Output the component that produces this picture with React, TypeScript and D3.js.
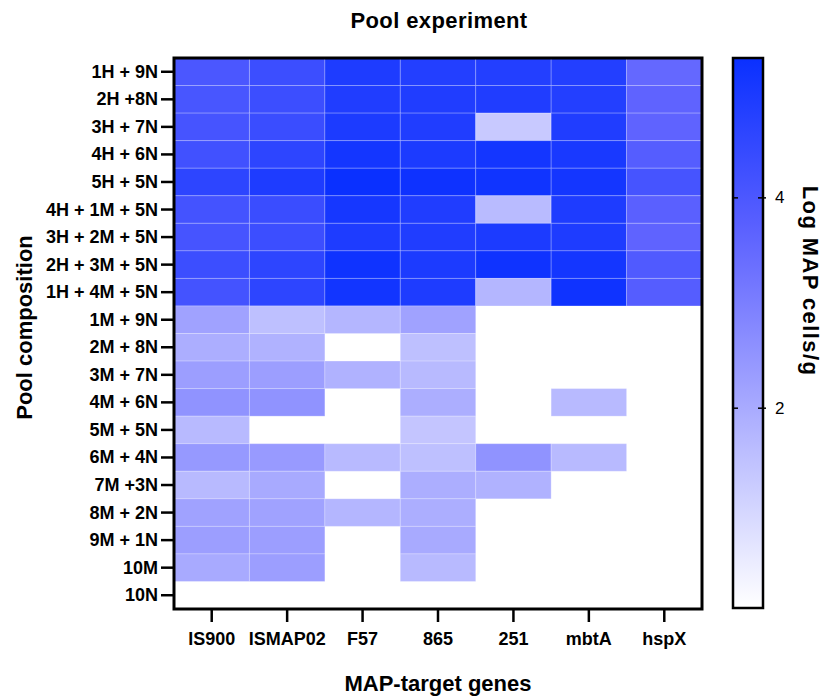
import { useEffect, useRef } from 'react'
import * as d3 from 'd3'

const genes = ['IS900', 'ISMAP02', 'F57', '865', '251', 'mbtA', 'hspX']

const pools = [
  '1H + 9N', '2H +8N', '3H + 7N', '4H + 6N', '5H + 5N',
  '4H + 1M + 5N', '3H + 2M + 5N', '2H + 3M + 5N', '1H + 4M + 5N',
  '1M + 9N', '2M + 8N', '3M + 7N', '4M + 6N', '5M + 5N', '6M + 4N',
  '7M +3N', '8M + 2N', '9M + 1N', '10M', '10N',
]

// log MAP cells/g, one array per pool row (null = no detection)
const r1H9N = [4.02, 4.32, 4.93, 4.83, 4.83, 4.83, 3.51]
const r2H8N = [4.08, 4.32, 4.89, 4.89, 4.89, 4.83, 3.62]
const r3H7N = [4.12, 4.36, 4.97, 4.89, 1.31, 4.89, 3.62]
const r4H6N = [4.22, 4.63, 5.13, 4.97, 5.13, 5.03, 3.82]
const r5H5N = [4.63, 4.93, 5.33, 5.25, 5.2, 5.13, 4.12]
const r4H1M5N = [4.16, 4.36, 5.09, 4.89, 1.64, 4.93, 3.72]
const r3H2M5N = [4.12, 4.32, 4.93, 4.89, 4.97, 4.93, 3.62]
const r2H3M5N = [4.32, 4.63, 5.23, 4.97, 5.23, 5.13, 3.92]
const r1H4M5N = [4.16, 4.63, 5.17, 4.93, 1.75, 5.23, 3.82]
const r1M9N = [2.19, 1.53, 1.75, 2.19, null, null, null]
const r2M8N = [1.93, 1.84, null, 1.53, null, null, null]
const r3M7N = [2.28, 2.28, 1.84, 1.66, null, null, null]
const r4M6N = [2.54, 2.54, null, 1.93, null, 1.66, null]
const r5M5N = [1.66, null, null, 1.4, null, null, null]
const r6M4N = [2.41, 2.37, 1.66, 1.53, 2.54, 1.66, null]
const r7M3N = [1.66, 2.02, null, 1.93, 1.84, null, null]
const r8M2N = [2.19, 2.19, 1.75, 1.93, null, null, null]
const r9M1N = [2.28, 2.28, null, 2.02, null, null, null]
const r10M = [2.02, 2.28, null, 1.66, null, null, null]
const r10N = [null, null, null, null, null, null, null]

const rows = [
  r1H9N, r2H8N, r3H7N, r4H6N, r5H5N, r4H1M5N, r3H2M5N, r2H3M5N, r1H4M5N,
  r1M9N, r2M8N, r3M7N, r4M6N, r5M5N, r6M4N, r7M3N, r8M2N, r9M1N, r10M, r10N,
]

const colorTicks = [2, 4]
const valueMin = 0.1
const valueMax = 5.33

const W = 822
const H = 700
const FONT = '"Liberation Sans", Arial, Helvetica, sans-serif'

export default function App() {
  const svgRef = useRef<SVGSVGElement>(null)

  useEffect(() => {
    if (!svgRef.current) return
    const svg = d3.select(svgRef.current)
    svg.selectAll('*').remove()

    const margin = { top: 58, left: 174 }
    const pw = 528
    const ph = 551

    const x = d3.scaleBand<string>().domain(genes).range([0, pw])
    const y = d3.scaleBand<string>().domain(pools).range([0, ph])
    const color = d3
      .scaleLinear<string>()
      .domain([valueMin, 3.6, valueMax])
      .range(['#ffffff', '#6064ff', '#0a30ff'])
      .clamp(true)

    const g = svg.append('g').attr('transform', `translate(${margin.left}, ${margin.top})`)

    // Cells
    const cells = rows.flatMap((vals, i) =>
      vals.map((v, j) => ({ pool: pools[i], gene: genes[j], v }))
    )
    g.selectAll('rect.cell')
      .data(cells.filter(d => d.v != null))
      .enter()
      .append('rect')
      .attr('class', 'cell')
      .attr('x', d => x(d.gene)!)
      .attr('y', d => y(d.pool)!)
      .attr('width', x.bandwidth())
      .attr('height', y.bandwidth())
      .attr('fill', d => color(d.v as number))
      .attr('stroke', 'rgba(255,255,255,0.22)')
      .attr('stroke-width', 1)

    // Frame
    g.append('rect')
      .attr('width', pw)
      .attr('height', ph)
      .attr('fill', 'none')
      .attr('stroke', '#000')
      .attr('stroke-width', 3)

    // Y axis
    const yAxis = g.append('g')
    pools.forEach(p => {
      const cy = y(p)! + y.bandwidth() / 2
      yAxis.append('line')
        .attr('x1', -13).attr('x2', 0).attr('y1', cy).attr('y2', cy)
        .attr('stroke', '#000').attr('stroke-width', 2.5)
      yAxis.append('text')
        .attr('x', -16).attr('y', cy)
        .attr('text-anchor', 'end').attr('dominant-baseline', 'central')
        .attr('font-family', FONT).attr('font-size', 18).attr('font-weight', 700)
        .text(p)
    })

    // X axis
    const xAxis = g.append('g').attr('transform', `translate(0, ${ph})`)
    genes.forEach(gn => {
      const cx = x(gn)! + x.bandwidth() / 2
      xAxis.append('line')
        .attr('x1', cx).attr('x2', cx).attr('y1', 0).attr('y2', 13)
        .attr('stroke', '#000').attr('stroke-width', 2.5)
      xAxis.append('text')
        .attr('x', cx).attr('y', 36)
        .attr('text-anchor', 'middle')
        .attr('font-family', FONT).attr('font-size', 18).attr('font-weight', 700)
        .text(gn)
    })

    // Titles
    svg.append('text')
      .attr('x', 439).attr('y', 28)
      .attr('text-anchor', 'middle')
      .attr('font-family', FONT).attr('font-size', 22).attr('font-weight', 700)
      .attr('letter-spacing', 0.4)
      .text('Pool experiment')
    svg.append('text')
      .attr('x', margin.left + pw / 2).attr('y', 691)
      .attr('text-anchor', 'middle')
      .attr('font-family', FONT).attr('font-size', 22).attr('font-weight', 700)
      .text('MAP-target genes')
    svg.append('text')
      .attr('transform', `translate(32, ${margin.top + ph / 2 - 6}) rotate(-90)`)
      .attr('text-anchor', 'middle')
      .attr('font-family', FONT).attr('font-size', 22).attr('font-weight', 700)
      .text('Pool composition')

    // Colour bar
    const cb = { x: 733, w: 30, top: 58, bottom: 608 }
    const cy = d3.scaleLinear().domain([valueMin, valueMax]).range([cb.bottom, cb.top])
    const defs = svg.append('defs')
    const grad = defs.append('linearGradient')
      .attr('id', 'cbGrad').attr('x1', '0%').attr('y1', '100%').attr('x2', '0%').attr('y2', '0%')
    d3.range(0, 11).forEach(i => {
      const v = valueMin + (valueMax - valueMin) * (i / 10)
      grad.append('stop').attr('offset', `${i * 10}%`).attr('stop-color', color(v))
    })
    svg.append('rect')
      .attr('x', cb.x).attr('y', cb.top)
      .attr('width', cb.w).attr('height', cb.bottom - cb.top)
      .attr('fill', 'url(#cbGrad)')
      .attr('stroke', '#000').attr('stroke-width', 2.5)
    colorTicks.forEach(t => {
      const ty = cy(t)
      svg.append('line')
        .attr('x1', cb.x).attr('x2', cb.x + 5).attr('y1', ty).attr('y2', ty)
        .attr('stroke', '#000').attr('stroke-width', 1.5)
      svg.append('line')
        .attr('x1', cb.x + cb.w - 5).attr('x2', cb.x + cb.w + 3).attr('y1', ty).attr('y2', ty)
        .attr('stroke', '#000').attr('stroke-width', 1.5)
      svg.append('text')
        .attr('x', 775).attr('y', ty)
        .attr('dominant-baseline', 'central')
        .attr('font-family', FONT).attr('font-size', 17)
        .text(t)
    })
    svg.append('text')
      .attr('transform', `translate(803, 281) rotate(90)`)
      .attr('text-anchor', 'middle')
      .attr('font-family', FONT).attr('font-size', 22).attr('font-weight', 700)
      .attr('letter-spacing', 1.4)
      .text('Log MAP cells/g')
  }, [])

  return (
    <svg
      ref={svgRef}
      width={W}
      height={H}
      style={{ position: 'absolute', left: 0, top: 0, background: '#fff' }}
    />
  )
}
